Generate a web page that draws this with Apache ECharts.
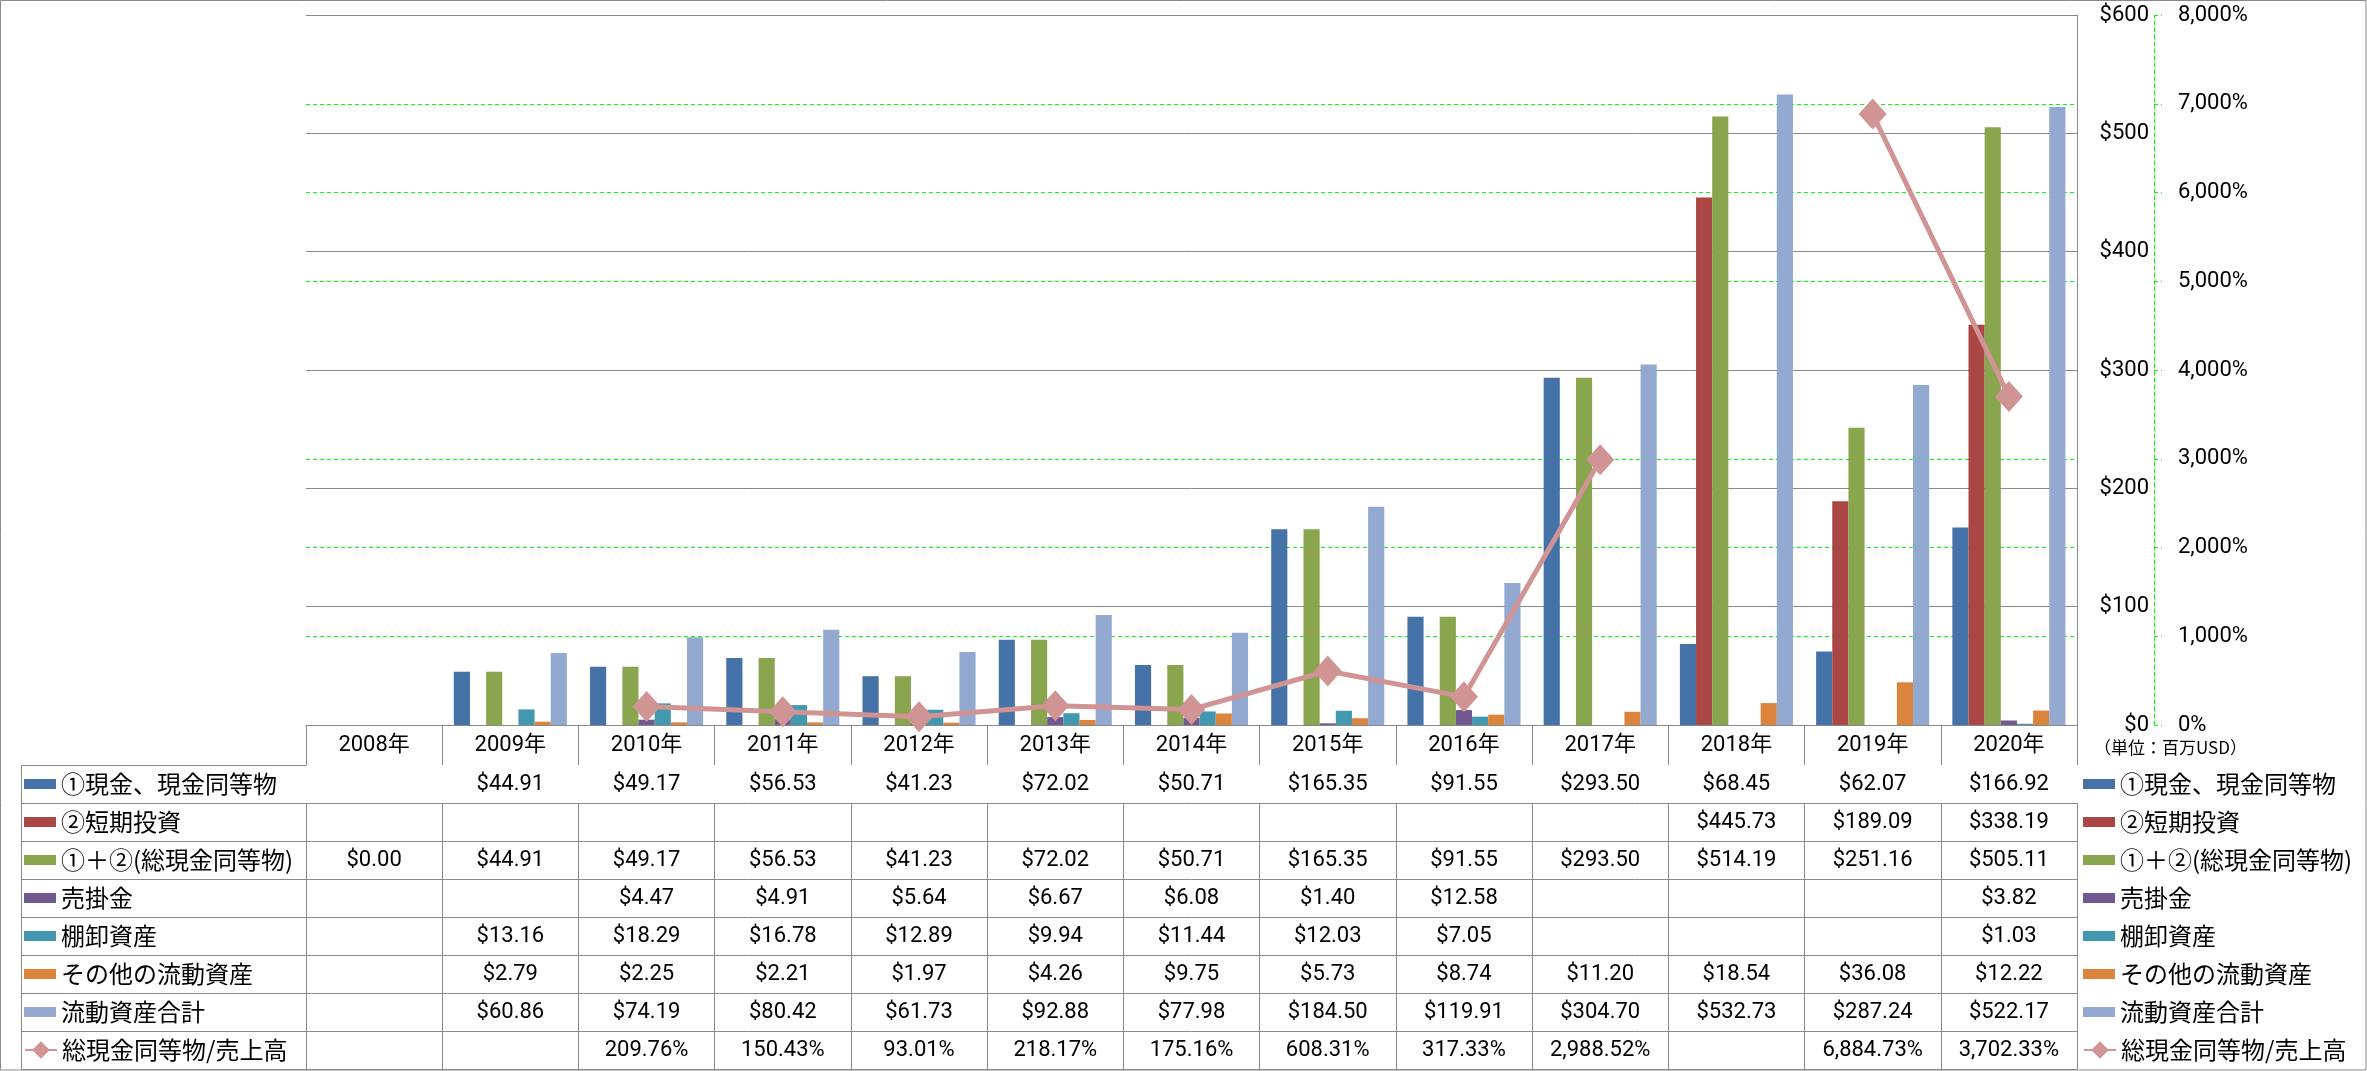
<!DOCTYPE html>
<html><head><meta charset="utf-8">
<script src="https://cdn.jsdelivr.net/npm/echarts@6/dist/echarts.min.js"></script>
<style>html,body{margin:0;padding:0;background:#fff}#c{width:2367px;height:1071px}</style>
</head><body><div id="c"></div>
<script>
// ---- data ----
const years = ['2008','2009','2010','2011','2012','2013','2014','2015','2016','2017','2018','2019','2020'];
const seriesNames = ['①現金、現金同等物','②短期投資','①＋②(総現金同等物)','売掛金','棚卸資産','その他の流動資産','流動資産合計','総現金同等物/売上高'];
const cash         = [null, 44.91, 49.17, 56.53, 41.23, 72.02, 50.71, 165.35, 91.55, 293.50, 68.45, 62.07, 166.92];
const shortInv     = [null, null, null, null, null, null, null, null, null, null, 445.73, 189.09, 338.19];
const totalCash    = [0.00, 44.91, 49.17, 56.53, 41.23, 72.02, 50.71, 165.35, 91.55, 293.50, 514.19, 251.16, 505.11];
const receivables  = [null, null, 4.47, 4.91, 5.64, 6.67, 6.08, 1.40, 12.58, null, null, null, 3.82];
const inventory    = [null, 13.16, 18.29, 16.78, 12.89, 9.94, 11.44, 12.03, 7.05, null, null, null, 1.03];
const otherCurrent = [null, 2.79, 2.25, 2.21, 1.97, 4.26, 9.75, 5.73, 8.74, 11.20, 18.54, 36.08, 12.22];
const totalCurrent = [null, 60.86, 74.19, 80.42, 61.73, 92.88, 77.98, 184.50, 119.91, 304.70, 532.73, 287.24, 522.17];
const cashToSales  = [null, null, 209.76, 150.43, 93.01, 218.17, 175.16, 608.31, 317.33, 2988.52, null, 6884.73, 3702.33];
const usdTicks = [0, 100, 200, 300, 400, 500, 600];
const pctTicks = [0, 1000, 2000, 3000, 4000, 5000, 6000, 7000, 8000];
const unitLabel = '（単位：百万USD）';

// ---- styles ----
const colors = ['#4572A7','#AA4643','#89A54E','#71588F','#4198AF','#DB843D','#93A9CF','#D19494'];
const LINE = '#898989';
const GREEN = '#00ff00';
const NUMFONT = 'Roboto, "Noto Sans CJK JP", sans-serif';
const JPFONT = '"Noto Sans CJK JP", sans-serif';
const GRID_L = 306, GRID_R = 2077, GRID_T = 15, GRID_B = 725;
const HEADER_H = 40, ROW_H = 38;
const W = 2367, H = 1071;

const barData = [cash, shortInv, totalCash, receivables, inventory, otherCurrent, totalCurrent];
const fmtUSD = v => v == null ? '' : '$' + v.toFixed(2);
const fmtPct = v => v == null ? '' : v.toLocaleString('en-US', {minimumFractionDigits: 2, maximumFractionDigits: 2}) + '%';
const rows = barData.map(d => ({d, f: fmtUSD})).concat([{d: cashToSales, f: fmtPct}]);

const xAxes = [{
  type: 'category', data: years, position: 'bottom', offset: 0, gridIndex: 0,
  axisLine: {show: true, lineStyle: {color: LINE, width: 1}},
  axisTick: {show: true, interval: 0, length: HEADER_H, lineStyle: {color: LINE, width: 1}},
  axisLabel: {show: true, interval: 0, margin: HEADER_H / 2, verticalAlign: 'middle', formatter: v => v + '年',
              fontSize: 22, fontFamily: NUMFONT, color: '#000'},
  splitLine: {show: false}
}];
rows.forEach((r, i) => {
  xAxes.push({
    type: 'category', data: years, position: 'bottom', offset: HEADER_H + ROW_H * i, gridIndex: 0,
    axisLine: {show: true, lineStyle: {color: LINE, width: 1}},
    axisTick: {show: true, interval: 0, length: ROW_H, lineStyle: {color: LINE, width: 1}},
    axisLabel: {show: true, interval: 0, margin: ROW_H / 2, verticalAlign: 'middle',
                formatter: (v, idx) => r.f(r.d[idx]),
                fontSize: 22, fontFamily: NUMFONT, color: '#000'},
    splitLine: {show: false}
  });
});

const series = barData.map((d, i) => ({
  type: 'bar', name: seriesNames[i], data: d, xAxisIndex: 0, yAxisIndex: 0,
  barGap: '0%', barCategoryGap: '17%', itemStyle: {color: colors[i]}
}));
series.push({
  type: 'line', name: seriesNames[7], data: cashToSales, xAxisIndex: 0, yAxisIndex: 1,
  symbol: 'diamond', symbolSize: [28, 31], connectNulls: false, z: 10,
  lineStyle: {width: 5, color: colors[7]}, itemStyle: {color: colors[7]}
});

const tableTop = GRID_B + HEADER_H;
const tableBottom = tableTop + ROW_H * 8;
const graphics = [
  {type: 'rect', shape: {x: 0.5, y: 0.5, width: W - 1.5, height: H - 1.5}, style: {fill: 'none', stroke: LINE, lineWidth: 1}, silent: true},
  {type: 'line', shape: {x1: 21.5, y1: tableTop + 0.5, x2: 21.5, y2: tableBottom + 0.5}, style: {stroke: LINE, lineWidth: 1}, silent: true},
  {type: 'text', left: 2094, top: 739, style: {text: unitLabel, fontSize: 17, fontFamily: JPFONT, fill: '#000'}, silent: true}
];
for (let k = 0; k <= 8; k++) {
  const y = tableTop + ROW_H * k + 0.5;
  graphics.push({type: 'line', shape: {x1: 21.5, y1: y, x2: (k === 8 ? GRID_R + 0.5 : GRID_L + 0.5), y2: y},
                 style: {stroke: LINE, lineWidth: 1}, silent: true});
}

const legendText = {fontSize: 24, fontFamily: JPFONT, color: '#000', lineHeight: ROW_H};
function mkLegend(left, top, names, icon, ih) {
  const o = {orient: 'vertical', left, top, padding: 0, itemGap: 0, itemWidth: 32, itemHeight: ih,
             data: names, textStyle: legendText, selectedMode: true};
  if (icon) o.icon = icon;
  return o;
}
const barNames = seriesNames.slice(0, 7);

const option = {
  animation: false,
  backgroundColor: '#fff',
  textStyle: {fontFamily: NUMFONT},
  grid: {left: GRID_L, right: W - GRID_R, top: GRID_T, bottom: H - GRID_B, containLabel: false, outerBoundsMode: 'none'},
  xAxis: xAxes,
  yAxis: [{
    type: 'value', position: 'right', z: 1, min: usdTicks[0], max: usdTicks[usdTicks.length - 1], interval: usdTicks[1] - usdTicks[0],
    axisLine: {show: true, lineStyle: {color: LINE, width: 1}},
    axisTick: {show: false},
    axisLabel: {margin: 72, align: 'right', formatter: v => '$' + v, fontSize: 22, fontFamily: NUMFONT, color: '#000'},
    splitLine: {show: true, lineStyle: {color: LINE, width: 1}}
  }, {
    type: 'value', position: 'right', z: 0, offset: 77, min: pctTicks[0], max: pctTicks[pctTicks.length - 1], interval: pctTicks[1] - pctTicks[0],
    axisLine: {show: true, lineStyle: {color: GREEN, width: 1, type: [4, 3]}},
    axisTick: {show: true, length: 8, lineStyle: {color: GREEN, width: 1, type: [4, 3]}},
    axisLabel: {margin: 24, formatter: v => v.toLocaleString('en-US') + '%', fontSize: 22, fontFamily: NUMFONT, color: '#000'},
    splitLine: {show: true, lineStyle: {color: GREEN, width: 1, type: [4, 3]}}
  }],
  legend: [
    mkLegend(24, tableTop, barNames, 'rect', 10),
    mkLegend(24, tableTop + ROW_H * 7, [seriesNames[7]], null, 22),
    mkLegend(2083, tableTop, barNames, 'rect', 10),
    mkLegend(2083, tableTop + ROW_H * 7, [seriesNames[7]], null, 22)
  ],
  graphic: graphics,
  series
};
const chart = echarts.init(document.getElementById('c'));
chart.setOption(option);
</script></body></html>
